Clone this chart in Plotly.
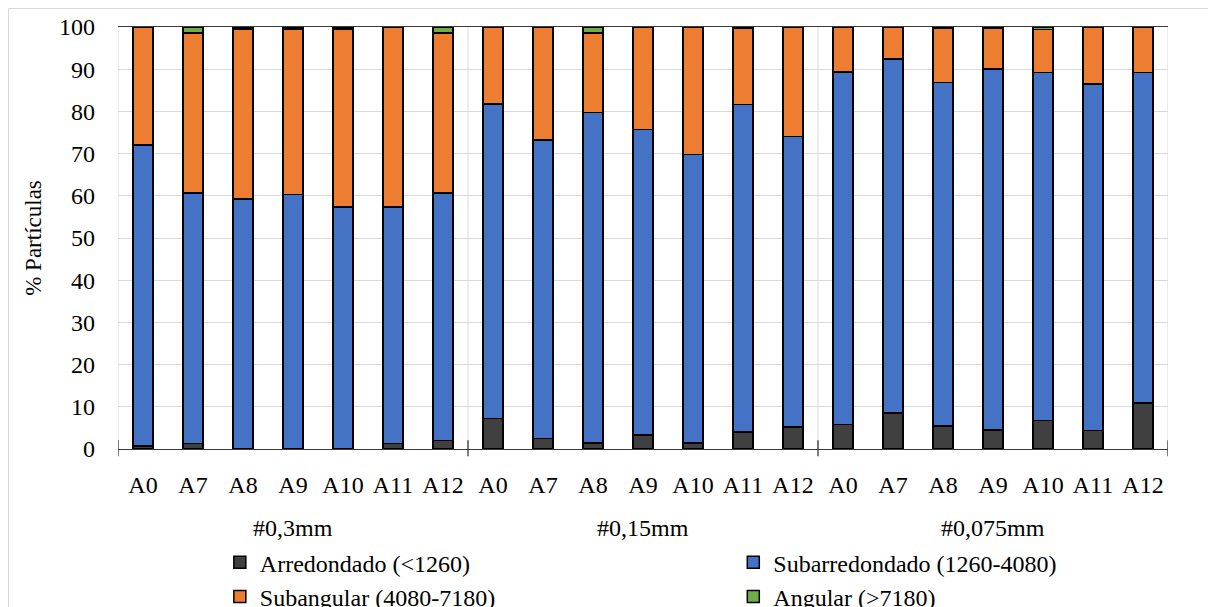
import plotly.graph_objects as go

groups = ["#0,3mm", "#0,15mm", "#0,075mm"]
samples = ["A0", "A7", "A8", "A9", "A10", "A11", "A12"]

arredondado = [0.7, 1.3, 0.0, 0.0, 0.0, 1.3, 2.0,
               7.2, 2.5, 1.4, 3.3, 1.4, 4.0, 5.2,
               5.8, 8.5, 5.4, 4.5, 6.8, 4.4, 10.9]
subarredondado = [71.3, 59.4, 59.2, 60.3, 57.4, 56.1, 58.7,
                  74.5, 70.7, 78.3, 72.4, 68.4, 77.6, 68.9,
                  83.5, 83.9, 81.5, 85.5, 82.4, 82.1, 78.3]
subangular = [28.0, 37.9, 40.3, 39.2, 42.1, 42.6, 37.9,
              18.3, 26.8, 18.9, 24.3, 30.2, 18.0, 25.9,
              10.7, 7.6, 12.7, 9.6, 10.2, 13.5, 10.8]
angular = [0.0, 1.4, 0.5, 0.5, 0.5, 0.0, 1.4,
           0.0, 0.0, 1.4, 0.0, 0.0, 0.4, 0.0,
           0.0, 0.0, 0.4, 0.4, 0.6, 0.0, 0.0]

series_names = ["Arredondado (<1260)", "Subarredondado (1260-4080)",
                "Subangular (4080-7180)", "Angular (>7180)"]
series_values = [arredondado, subarredondado, subangular, angular]
colors = ["#404040", "#4472C4", "#ED7D31", "#70AD47"]
legend_refs = ["legend", "legend2", "legend", "legend2"]

labels = [s for g in groups for s in samples]
xs = list(range(len(labels)))

FONT = "Liberation Serif"
FS = 24
fig = go.Figure()
for name, vals, col, lg in zip(series_names, series_values, colors, legend_refs):
    fig.add_trace(go.Bar(x=xs, y=vals, name=name, legend=lg,
                         marker=dict(color=col, line=dict(color="black", width=1.5))))

n = len(samples)
bounds = [-0.5 + i * n for i in range(len(groups) + 1)]
shapes = []
for b in bounds:
    shapes.append(dict(type="line", xref="x", yref="paper", x0=b, x1=b, y0=0, y1=1,
                       line=dict(color="#d9d9d9", width=1), layer="below"))
    shapes.append(dict(type="line", xref="x", yref="paper", x0=b, x1=b, y0=-0.017, y1=0.021,
                       line=dict(color="#3a3a3a", width=1.3)))
shapes.append(dict(type="rect", xref="paper", yref="paper", x0=-0.1043, x1=1.2, y0=-0.6, y1=1.0438,
                   line=dict(color="#d9d9d9", width=1), fillcolor="rgba(0,0,0,0)"))

annotations = []
for gi, g in enumerate(groups):
    center = (bounds[gi] + bounds[gi + 1]) / 2
    annotations.append(dict(x=center, y=-0.187, xref="x", yref="paper", text=g,
                            showarrow=False, font=dict(family=FONT, size=FS, color="black"),
                            xanchor="center", yanchor="middle"))

legend_common = dict(orientation="v", yanchor="top", xanchor="left", y=-0.216,
                     font=dict(family=FONT, size=FS, color="black"), itemclick=False,
                     bgcolor="rgba(0,0,0,0)", tracegroupgap=0, traceorder="normal")

fig.update_layout(
    width=1216, height=607,
    margin=dict(l=110, r=56, t=19, b=166, autoexpand=False),
    barmode="stack", bargap=0.6,
    plot_bgcolor="white", paper_bgcolor="white",
    font=dict(family=FONT, size=FS, color="black"),
    shapes=shapes, annotations=annotations,
    legend=dict(x=0.097, **legend_common),
    legend2=dict(x=0.586, **legend_common),
    showlegend=True,
)
fig.update_xaxes(range=[-0.5, len(labels) - 0.5], tickvals=xs, ticktext=labels,
                 ticks="", showgrid=False, showline=True, linecolor="#3a3a3a", linewidth=1.3,
                 mirror=True, ticklabelstandoff=14, zeroline=False,
                 tickfont=dict(family=FONT, size=FS, color="black"))
fig.update_yaxes(range=[0, 100], dtick=10, ticks="", showgrid=True, gridcolor="#d9d9d9",
                 gridwidth=1, showline=False, zeroline=False, ticklabelstandoff=22,
                 tickfont=dict(family=FONT, size=FS, color="black"),
                 title=dict(text="% Partículas", standoff=10,
                            font=dict(family=FONT, size=FS - 1, color="black")))

fig.write_html("out.html")
